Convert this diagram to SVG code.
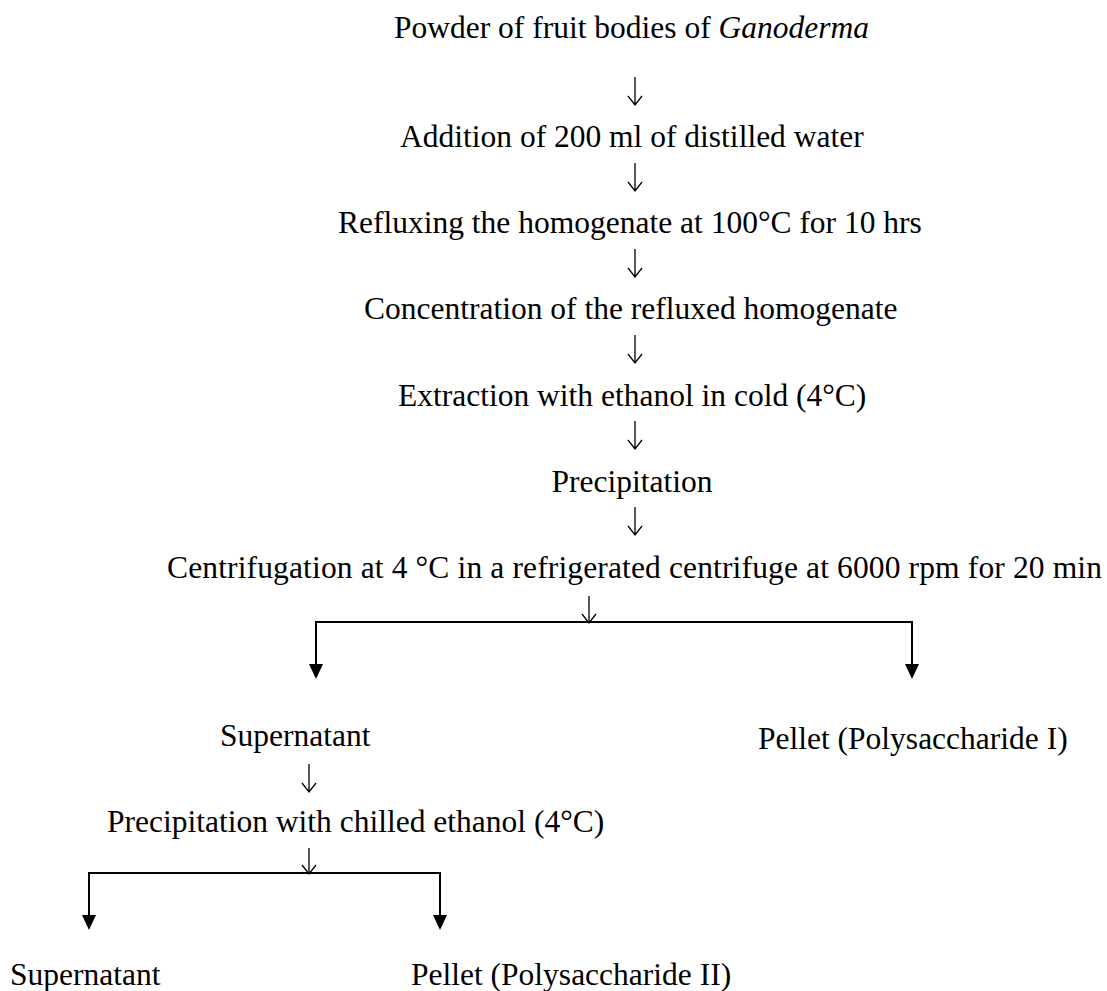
<svg xmlns="http://www.w3.org/2000/svg" width="1107" height="991" viewBox="0 0 1107 991">
<style>
text{font-family:"Liberation Serif","Times New Roman",serif;font-size:31.5px;fill:#000}
.thin{fill:none;stroke:#000;stroke-width:1.3}
.thick{fill:none;stroke:#000;stroke-width:2}
.head{fill:#000;stroke:none}
</style>
<rect width="1107" height="991" fill="#fff"/>
<g id="n1"><text x="394" y="38">Powder of fruit bodies of <tspan font-style="italic">Ganoderma</tspan></text></g>
<g id="n2"><text x="400" y="147">Addition of 200 ml of distilled water</text></g>
<g id="n3"><text x="338" y="233">Refluxing the homogenate at 100°C for 10 hrs</text></g>
<g id="n4"><text x="364" y="319">Concentration of the refluxed homogenate</text></g>
<g id="n5"><text x="398" y="406">Extraction with ethanol in cold (4°C)</text></g>
<g id="n6"><text x="632" y="492" text-anchor="middle">Precipitation</text></g>
<g id="n7"><text x="167" y="578" textLength="935" lengthAdjust="spacing">Centrifugation at 4 °C in a refrigerated centrifuge at 6000 rpm for 20 min</text></g>
<g id="n8"><text x="220" y="746">Supernatant</text></g>
<g id="n9"><text x="758" y="749">Pellet (Polysaccharide I)</text></g>
<g id="n10"><text x="107" y="832">Precipitation with chilled ethanol (4°C)</text></g>
<g id="n11"><text x="10" y="985">Supernatant</text></g>
<g id="n12"><text x="411" y="985">Pellet (Polysaccharide II)</text></g>
<g id="connectors">
<path class="thin" d="M635,77 V105 M628,96 L635,105 L642,96"/>
<path class="thin" d="M635,163 V191 M628,182 L635,191 L642,182"/>
<path class="thin" d="M635,249 V277 M628,268 L635,277 L642,268"/>
<path class="thin" d="M635,335 V363 M628,354 L635,363 L642,354"/>
<path class="thin" d="M635,421 V449 M628,440 L635,449 L642,440"/>
<path class="thin" d="M635,507 V535 M628,526 L635,535 L642,526"/>
<path class="thin" d="M589,596 V623 M582,614 L589,623 L596,614"/>
<path class="thick" d="M316,664 V622 H912 V664"/>
<path class="head" d="M309,664 L323,664 L316,679 Z"/>
<path class="head" d="M905,664 L919,664 L912,679 Z"/>
<path class="thin" d="M309,764 V792 M302,783 L309,792 L316,783"/>
<path class="thin" d="M309,848 V874 M302,865 L309,874 L316,865"/>
<path class="thick" d="M89,915 V873 H440 V915"/>
<path class="head" d="M82,915 L96,915 L89,930 Z"/>
<path class="head" d="M433,915 L447,915 L440,930 Z"/>
</g>
</svg>
